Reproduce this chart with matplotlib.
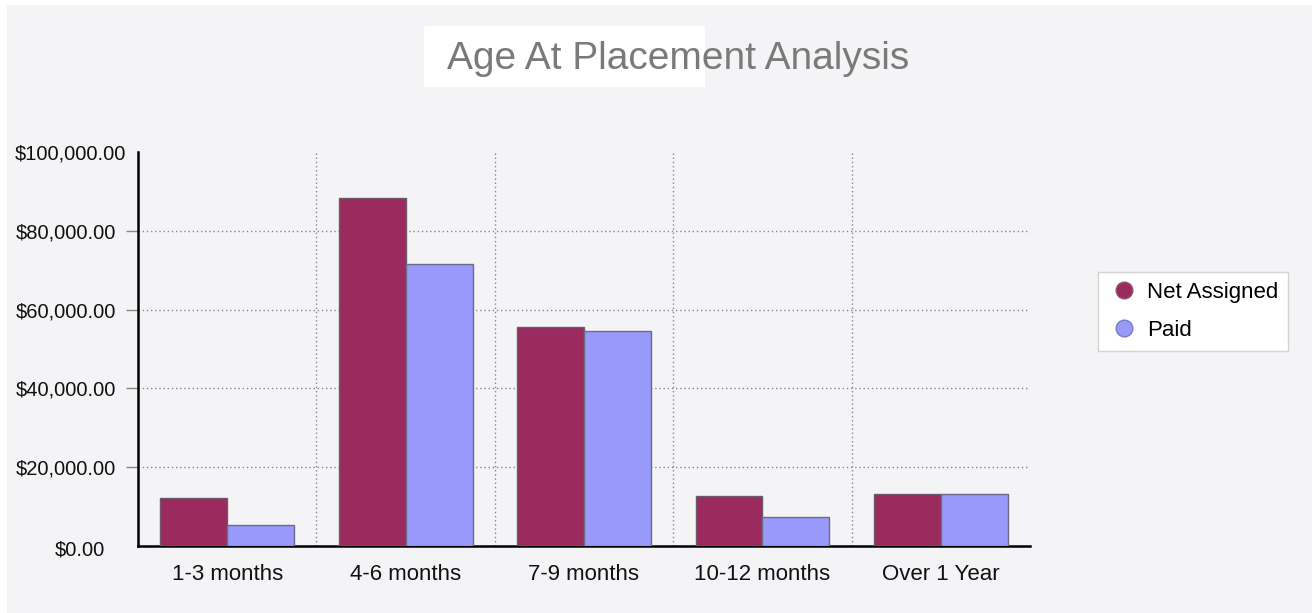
import matplotlib.pyplot as plt
import numpy as np
from matplotlib.patches import Rectangle
from matplotlib.ticker import FuncFormatter
from matplotlib.transforms import ScaledTranslation

categories = ["1-3 months", "4-6 months", "7-9 months", "10-12 months", "Over 1 Year"]
net_assigned = [12200, 88200, 55600, 12700, 13200]
paid = [5300, 71700, 54500, 7400, 13200]
y_ticks = [0, 20000, 40000, 60000, 80000, 100000]

NET_COLOR = "#9b2b5e"
PAID_COLOR = "#9999fb"
BG = "#f4f4f6"

plt.rcParams["font.family"] = ["Liberation Sans", "DejaVu Sans"]

fig = plt.figure(figsize=(13.12, 6.13), dpi=100, facecolor="white")
# grey panel with a thin white strip on the left and top
fig.patches.append(Rectangle((7 / 1312, 0), 1, 1 - 5 / 613, transform=fig.transFigure,
                             facecolor=BG, edgecolor="none", zorder=-2))
# white box behind the title
fig.patches.append(Rectangle((424 / 1312, 1 - 87 / 613), 281 / 1312, 61 / 613,
                             transform=fig.transFigure, facecolor="white",
                             edgecolor="none", zorder=-1))

ax = fig.add_axes([138 / 1312, 1 - 546 / 613, 892 / 1312, 394 / 613])
ax.set_zorder(2)
ax.set_facecolor("none")

x = np.arange(len(categories))
w = 0.375
ax.bar(x - w / 2, net_assigned, w, color=NET_COLOR, edgecolor="#6b5a6e",
       linewidth=1, label="Net Assigned", zorder=3)
ax.bar(x + w / 2, paid, w, color=PAID_COLOR, edgecolor="#6b6b85",
       linewidth=1, label="Paid", zorder=3)

ax.set_xlim(-0.5, len(categories) - 0.5)
ax.set_ylim(0, 100000)
ax.set_yticks(y_ticks)
ax.yaxis.set_major_formatter(FuncFormatter(lambda v, _: f"${v:,.2f}"))
ax.set_xticks(x)
ax.set_xticklabels(categories)
ax.set_xticks(np.arange(len(categories) - 1) + 0.5, minor=True)

ax.tick_params(axis="y", length=9, width=1, color="#888888", pad=7,
               labelsize=14.5, labelcolor="#111111")
ax.tick_params(axis="x", which="both", length=0, pad=13, labelsize=16,
               labelcolor="#111111")

ax.yaxis.grid(True, linestyle=(0, (1, 2)), color="#888888", linewidth=1, zorder=1)
ax.xaxis.grid(True, which="minor", linestyle=(0, (1, 2)), color="#888888",
              linewidth=1, zorder=1)
ax.xaxis.grid(False, which="major")
for gl in (ax.yaxis.get_gridlines()[0], ax.yaxis.get_gridlines()[-1]):
    gl.set_visible(False)

# no tick marks at the ends; the end labels sit a little off the others
yticks = ax.yaxis.get_major_ticks()
for t in (yticks[0], yticks[-1]):
    t.tick1line.set_visible(False)
labels = ax.get_yticklabels()
labels[-1].set_transform(labels[-1].get_transform()
                         + ScaledTranslation(10 / 100, 0, fig.dpi_scale_trans))
labels[0].set_transform(labels[0].get_transform()
                        + ScaledTranslation(-11 / 100, -2 / 100, fig.dpi_scale_trans))

for side in ("top", "right"):
    ax.spines[side].set_visible(False)
for side in ("left", "bottom"):
    ax.spines[side].set_linewidth(1.8)
    ax.spines[side].set_color("black")

fig.text(678 / 1312, 1 - 59 / 613, "Age At Placement Analysis", ha="center",
         va="center", fontsize=28, color="#7a7a7a")

handles = [
    plt.Line2D([], [], marker="o", linestyle="none", markersize=12,
               markerfacecolor=NET_COLOR, markeredgecolor="#8a5a75"),
    plt.Line2D([], [], marker="o", linestyle="none", markersize=12,
               markerfacecolor=PAID_COLOR, markeredgecolor="#7a7ac0"),
]
leg = fig.legend(handles, ["Net Assigned", "Paid"], loc="upper left",
                 bbox_to_anchor=(1098 / 1312, 1 - 272 / 613), fontsize=16,
                 frameon=True, fancybox=False, borderaxespad=0,
                 handletextpad=0.35, labelspacing=0.75, borderpad=0.45,
                 handlelength=1.4, framealpha=1)
leg.get_frame().set_facecolor("white")
leg.get_frame().set_edgecolor("#d4d4d4")
leg.get_frame().set_linewidth(1)

fig.savefig("out.png", dpi=100, facecolor=fig.get_facecolor())
